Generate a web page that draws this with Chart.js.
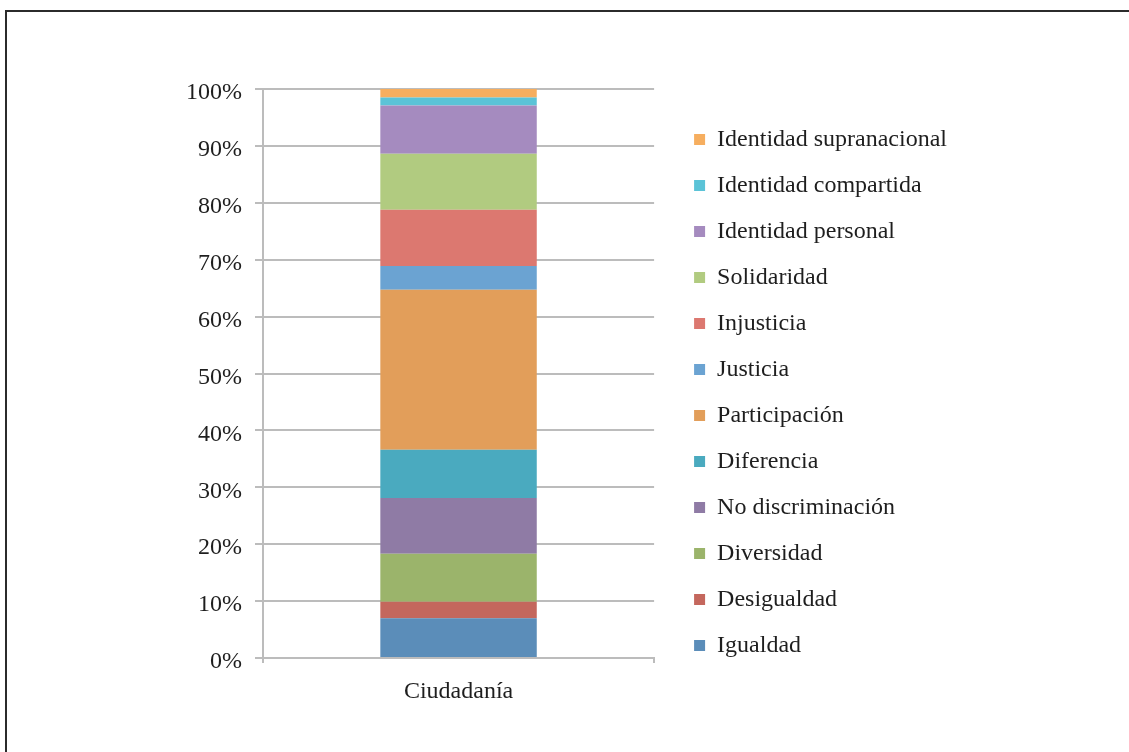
<!DOCTYPE html>
<html>
<head>
<meta charset="utf-8">
<script src="https://cdn.jsdelivr.net/npm/chart.js@4.4.1/dist/chart.umd.min.js"></script>
<style>
  body { margin: 0; background: #fff; }
  #wrap { position: relative; width: 1129px; height: 752px; }
  #frame { position: absolute; left: 5px; top: 10px; right: 0; bottom: 0;
           border-top: 2px solid #2b2b2b; border-left: 2px solid #2b2b2b; }
  canvas { position: absolute; left: 0; top: 0; }
</style>
</head>
<body>
<div id="wrap">
  <div id="frame"></div>
  <canvas id="myChart" width="1129" height="752"></canvas>
</div>
<script>
const categories = ['Ciudadanía']
const names = [
  'Igualdad', 'Desigualdad', 'Diversidad', 'No discriminación', 'Diferencia',
  'Participación', 'Justicia', 'Injusticia', 'Solidaridad',
  'Identidad personal', 'Identidad compartida', 'Identidad supranacional'
]
const values = [7.0, 2.9, 8.4, 9.8, 8.5, 28.1, 4.2, 9.9, 9.8, 8.5, 1.4, 1.5]
const colors = [
  '#5b8db9', '#c4675d', '#9bb46b', '#8f7ba5', '#4aaabf', '#e29e5a',
  '#6ba3d2', '#dc7870', '#b1cb80', '#a58bbf', '#5bc3d7', '#f6ae5f'
]
const yTicks = [0, 10, 20, 30, 40, 50, 60, 70, 80, 90, 100]

const serif = 'Liberation Serif'
const gridColor = '#bcbcbc'
const textColor = '#1e1e1e'

// empty boxes used only to hold space around the plot area
const spacer = (position, size) => ({
    type: 'linear',
    position: position,
    grid: { display: false },
    border: { display: false },
    ticks: { display: false },
    afterFit: s => {
        if (position === 'top') s.height = size
        else s.width = size
    }
})

const ctx = document.getElementById('myChart')

const myChart = new Chart(ctx, {
    type: 'bar',
    data: {
        labels: categories,
        datasets: names.map((name, i) => ({
            label: name,
            data: [values[i]],
            backgroundColor: colors[i],
            borderWidth: 0,
            xAxisID: 'x',
            yAxisID: 'y',
            barPercentage: 0.4,
            categoryPercentage: 1
        }))
    },
    options: {
        responsive: false,
        animation: false,
        layout: {
            padding: { top: 79, bottom: 46, left: 183, right: 172 }
        },
        scales: {
            x: {
                stacked: true,
                grid: { drawOnChartArea: false, tickLength: 5, color: gridColor, lineWidth: 2, offset: true },
                border: { color: gridColor, width: 2 },
                ticks: { padding: 14, color: textColor, font: { family: serif, size: 24 } },
                afterFit: s => { s.height = 48 }
            },
            y: {
                stacked: true,
                min: 0,
                max: 100,
                afterBuildTicks: s => { s.ticks = yTicks.map(v => ({ value: v })) },
                grid: { tickLength: 8, color: gridColor, lineWidth: 2 },
                border: { color: gridColor, width: 2 },
                ticks: {
                    padding: 13,
                    labelOffset: 4,
                    color: textColor,
                    font: { family: serif, size: 24 },
                    callback: v => v + '%'
                },
                afterFit: s => { s.width = 80 }
            },
            padTop: spacer('top', 10),
            padRight: spacer('right', 18)
        },
        plugins: {
            legend: {
                position: 'right',
                reverse: true,
                maxWidth: 400,
                labels: {
                    boxWidth: 11,
                    boxHeight: 11,
                    padding: 22,
                    color: textColor,
                    font: { family: serif, size: 24 }
                }
            },
            tooltip: { enabled: false }
        }
    }
})
</script>
</body>
</html>
